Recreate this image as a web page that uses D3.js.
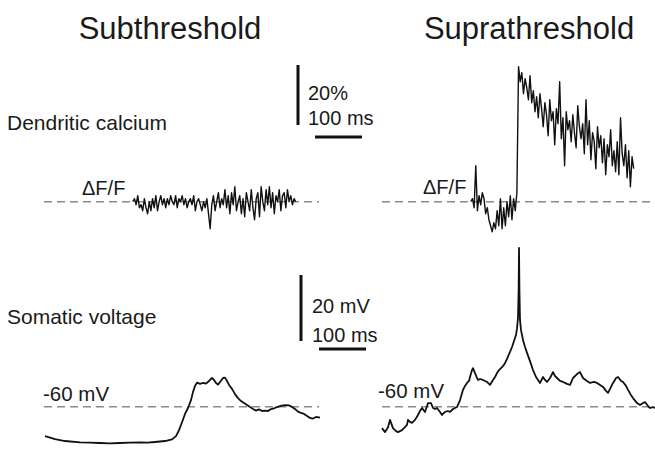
<!DOCTYPE html>
<html>
<head>
<meta charset="utf-8">
<script src="https://cdn.jsdelivr.net/npm/d3@7"></script>
<style>
  body { margin: 0; background: #fff; }
  svg { display: block; }
  text { font-family: "Liberation Sans", Arial, sans-serif; fill: #1a1a1a; }
</style>
</head>
<body>
<script>
// calcium traces, sampled every 3.5 ms, in % dF/F
var caStart = 189, caStep = 3.5;

var caSub = [0, 1, -1, 2, -2, -1, -3, 1, -2, -4, 0, -3, 1, -2, 2, -3, 0, 2, -1, 1,
    -2, 1, -1, 2, 0, -1, 2, -2, 1, 0, 2, -1, 1, -2, 0, 1, -1, 2, -3, 0,
    1, -1, -3, 0, -2, 1, -4, -9, -1, 2, -3, 0, 3, -2, 1, -1, 4, -2, 2, -4,
    3, -1, 5, -3, 0, 2, -4, 1, -5, 3, 0, -3, 4, -2, -6, 1, 3, -5, 5, 0,
    -3, 4, -1, 5, -2, 3, -4, 2, 0, 4, -3, 2, 3, -2, 4, 0, 2, -1, 1, 0];

var caSupra = [0, 1, -2, 12, -3, 2, -1, 3, 1, -4, -2, -6, -8, -10, -7, -9, -3, -8, 1, -9,
    -2, -8, 0, -5, 2, -6, 1, -3, 3,
    45, 40, 43, 36, 41, 38, 34, 42, 33, 37, 30, 35, 28, 36, 31, 25, 33, 29, 22, 34,
    27, 30, 19, 31, 26, 40, 21, 28, 12, 30, 24, 27, 20, 29, 23, 18, 32, 25, 21, 26,
    16, 34, 19, 27, 14, 23, 20, 11, 25, 18, 22, 13, 21, 9, 19, 15, 24, 12, 17, 10,
    20, 9, 28, 16, 12, 19, 8, 17, 5, 15, 11];

// somatic voltage traces, time in ms and membrane potential in mV
var vSubTime = [2.1, 23.4, 44.7, 76.6, 98, 119.2, 140, 161.7, 183, 204.3, 220, 236.2, 257.5, 272.4, 280.9,
    287.3, 293.7, 300.0, 306.4, 312.8, 317.1, 321.3, 325.6, 332.0, 338.4, 344.7, 351.1, 357.5,
    361.8, 366.0, 370.3, 374.5, 380.9, 385.2, 389.4, 393.7, 400.1, 406.4, 412.8, 419.2, 425.6,
    432.0, 438.4, 444.8, 451.1, 457.5, 463.9, 470.3, 476.7, 483.1, 489.4, 495.8, 502.2, 508.6,
    515.0, 521.4, 527.7, 534.1, 540.5, 546.9, 553.3, 559.7, 566.0, 572.4, 578.8, 587.3];
var vSub = [-68.9, -69.8, -70.4, -70.8, -70.9, -71.0, -71.1, -71.0, -70.9, -70.8, -70.9, -70.7, -70.4, -69.9, -68.9,
    -67.1, -64.7, -62.2, -60.4, -58.0, -55.5, -53.7, -52.7, -53.1, -52.8, -53.0, -52.2, -51.3,
    -51.9, -52.8, -53.3, -52.5, -51.3, -51.2, -52.2, -53.4, -54.6, -56.2, -57.4, -58.3, -58.9,
    -59.5, -60.1, -60.7, -61.2, -60.8, -61.3, -61.2, -61.3, -60.7, -60.5, -60.1, -59.8, -59.6,
    -59.5, -59.6, -60.1, -60.7, -61.5, -61.9, -62.2, -62.8, -63.4, -63.6, -63.1, -63.3];

var vSupraTime = [0, 6.4, 12.8, 17.0, 23.4, 29.8, 34.0, 42.6, 48.9, 53.2, 55.3, 59.6, 63.8, 70.2, 76.6,
    80.9, 85.1, 91.5, 97.9, 104.3, 108.5, 112.8, 117.0, 123.4, 127.7, 134.1, 140.4, 144.7, 151.1,
    159.6, 166.0, 172.4, 176.6, 180.9, 185.1, 187.3, 191.5, 193.6, 197.9, 202.2, 204.3, 208.5,
    214.9, 219.2, 223.4, 229.8, 236.2, 240.5, 244.7, 249.0, 253.2, 257.5, 261.7, 266.0, 272.4,
    276.6, 280.9, 285.1, 287.3, 289.4, 290.7, 291.5, 292.4, 293.6, 295.8, 300.0, 304.3, 308.6,
    314.9, 321.3, 327.7, 336.2, 342.6, 346.9, 351.1, 357.5, 363.9, 368.1, 372.4, 378.8, 385.2,
    393.7, 400.1, 406.4, 414.9, 421.3, 427.7, 436.2, 442.6, 451.1, 457.5, 463.9, 470.3, 476.7,
    480.9, 487.3, 491.6, 498.0, 502.2, 508.6, 512.8, 519.2, 523.5, 529.9, 534.1, 542.6, 549.0,
    555.4, 559.6, 566.0, 570.2, 576.6, 580.9];
var vSupra = [-66.5, -67.7, -66.2, -64.0, -66.5, -67.4, -67.7, -67.1, -66.2, -65.5, -64.0, -64.6, -64.9, -64.0, -62.5,
    -61.3, -60.4, -61.6, -58.9, -58.9, -60.4, -60.7, -60.4, -61.6, -62.5, -61.6, -61.3, -61.6, -60.7,
    -60.1, -58.0, -54.9, -53.7, -52.8, -52.2, -51.0, -48.9, -48.3, -49.8, -51.3, -51.9, -51.6,
    -51.9, -52.2, -52.5, -53.4, -51.9, -51.0, -49.8, -48.9, -48.3, -47.7, -46.8, -45.5, -43.4,
    -41.9, -40.1, -38.3, -36.2, -33.1, -24.6, -11.9, -24.6, -33.7, -36.8, -39.8, -41.9, -43.7,
    -46.2, -48.9, -51.0, -52.8, -51.0, -51.9, -52.5, -51.3, -49.5, -50.7, -51.3, -52.2, -52.5,
    -53.1, -53.4, -51.3, -50.1, -49.5, -51.3, -52.2, -52.8, -52.5, -52.8, -53.4, -54.0, -55.2,
    -55.8, -54.0, -52.8, -51.3, -51.0, -52.2, -52.5, -53.7, -54.9, -56.5, -57.4, -58.9, -59.5,
    -58.9, -58.6, -59.8, -60.4, -60.1, -60.4];

// reference levels and their extents (ms)
var caBaseline = 0, vBaseline = -60;
var baseSpan = [0, 585];

// scale bar sizes
var barPct = 20, barMv = 20, barMs = 100;

var width = 655, height = 449;

var svg = d3.select("body")
    .append("svg")
    .attr("width", width)
    .attr("height", height);

// time scales, one per column (0.47 px per ms)
var xLeft = d3.scaleLinear().domain([0, 100]).range([44, 91]);
var xRight = d3.scaleLinear().domain([0, 100]).range([382, 429]);

// vertical scales
var yCa = d3.scaleLinear().domain([0, 20]).range([201.7, 141.7]);
var yV = d3.scaleLinear().domain([-60, -40]).range([406.7, 340.7]);

function caPoints(arr) {
    return arr.map(function(d, i) { return {t: caStart + i * caStep, v: d}; });
}
function vPoints(times, vals) {
    return times.map(function(t, i) { return {t: t, v: vals[i]}; });
}

// dashed baselines
function baseline(x, y, val) {
    svg.append("line")
        .attr("x1", x(baseSpan[0]))
        .attr("x2", Math.min(x(baseSpan[1]), width))
        .attr("y1", y(val))
        .attr("y2", y(val))
        .attr("stroke", "#8a8a8a")
        .attr("stroke-width", 1.5)
        .attr("stroke-dasharray", "8,5");
}
baseline(xLeft, yCa, caBaseline);
baseline(xRight, yCa, caBaseline);
baseline(xLeft, yV, vBaseline);
baseline(xRight, yV, vBaseline);

// traces
function trace(data, x, y, w) {
    svg.append("path")
        .datum(data)
        .attr("fill", "none")
        .attr("stroke", "#111")
        .attr("stroke-width", w)
        .attr("stroke-linejoin", "round")
        .attr("d", d3.line()
            .x(function(d) { return x(d.t); })
            .y(function(d) { return y(d.v); }));
}
trace(caPoints(caSub), xLeft, yCa, 1.4);
trace(caPoints(caSupra), xRight, yCa, 1.4);
trace(vPoints(vSubTime, vSub), xLeft, yV, 1.8);
trace(vPoints(vSupraTime, vSupra), xRight, yV, 1.8);

// titles
svg.append("text").attr("x", 170).attr("y", 39)
    .style("text-anchor", "middle").attr("font-size", "31px").text("Subthreshold");
svg.append("text").attr("x", 529).attr("y", 39)
    .style("text-anchor", "middle").attr("font-size", "31px").text("Suprathreshold");

// row labels
svg.append("text").attr("x", 7).attr("y", 130).attr("font-size", "21px").text("Dendritic calcium");
svg.append("text").attr("x", 7).attr("y", 324).attr("font-size", "21px").text("Somatic voltage");

// baseline labels
svg.append("text").attr("x", 82).attr("y", 195).attr("font-size", "20px").text("\u0394F/F");
svg.append("text").attr("x", 423).attr("y", 194).attr("font-size", "20px").text("\u0394F/F");
svg.append("text").attr("x", 43).attr("y", 401).attr("font-size", "20.5px").text("-60 mV");
svg.append("text").attr("x", 378).attr("y", 398).attr("font-size", "20.5px").text("-60 mV");

// scale bars
function scaleBar(bx, top, y, amount, hx, hy, label1, label2, tx, ty1, ty2) {
    var len = y(y.domain()[0]) - y(y.domain()[0] + amount);
    svg.append("line")
        .attr("x1", bx).attr("x2", bx)
        .attr("y1", top).attr("y2", top + len)
        .attr("stroke", "#111").attr("stroke-width", 3);
    var hl = xLeft(barMs) - xLeft(0);
    svg.append("line")
        .attr("x1", hx).attr("x2", hx + hl)
        .attr("y1", hy).attr("y2", hy)
        .attr("stroke", "#111").attr("stroke-width", 3);
    svg.append("text").attr("x", tx).attr("y", ty1).attr("font-size", "20px").text(label1);
    svg.append("text").attr("x", tx).attr("y", ty2).attr("font-size", "20px").text(label2);
}
scaleBar(298, 65, yCa, barPct, 315, 137, barPct + "%", barMs + " ms", 308, 100, 125);
scaleBar(301, 275, yV, barMv, 319, 349, barMv + " mV", barMs + " ms", 312, 313, 342);
</script>
</body>
</html>
